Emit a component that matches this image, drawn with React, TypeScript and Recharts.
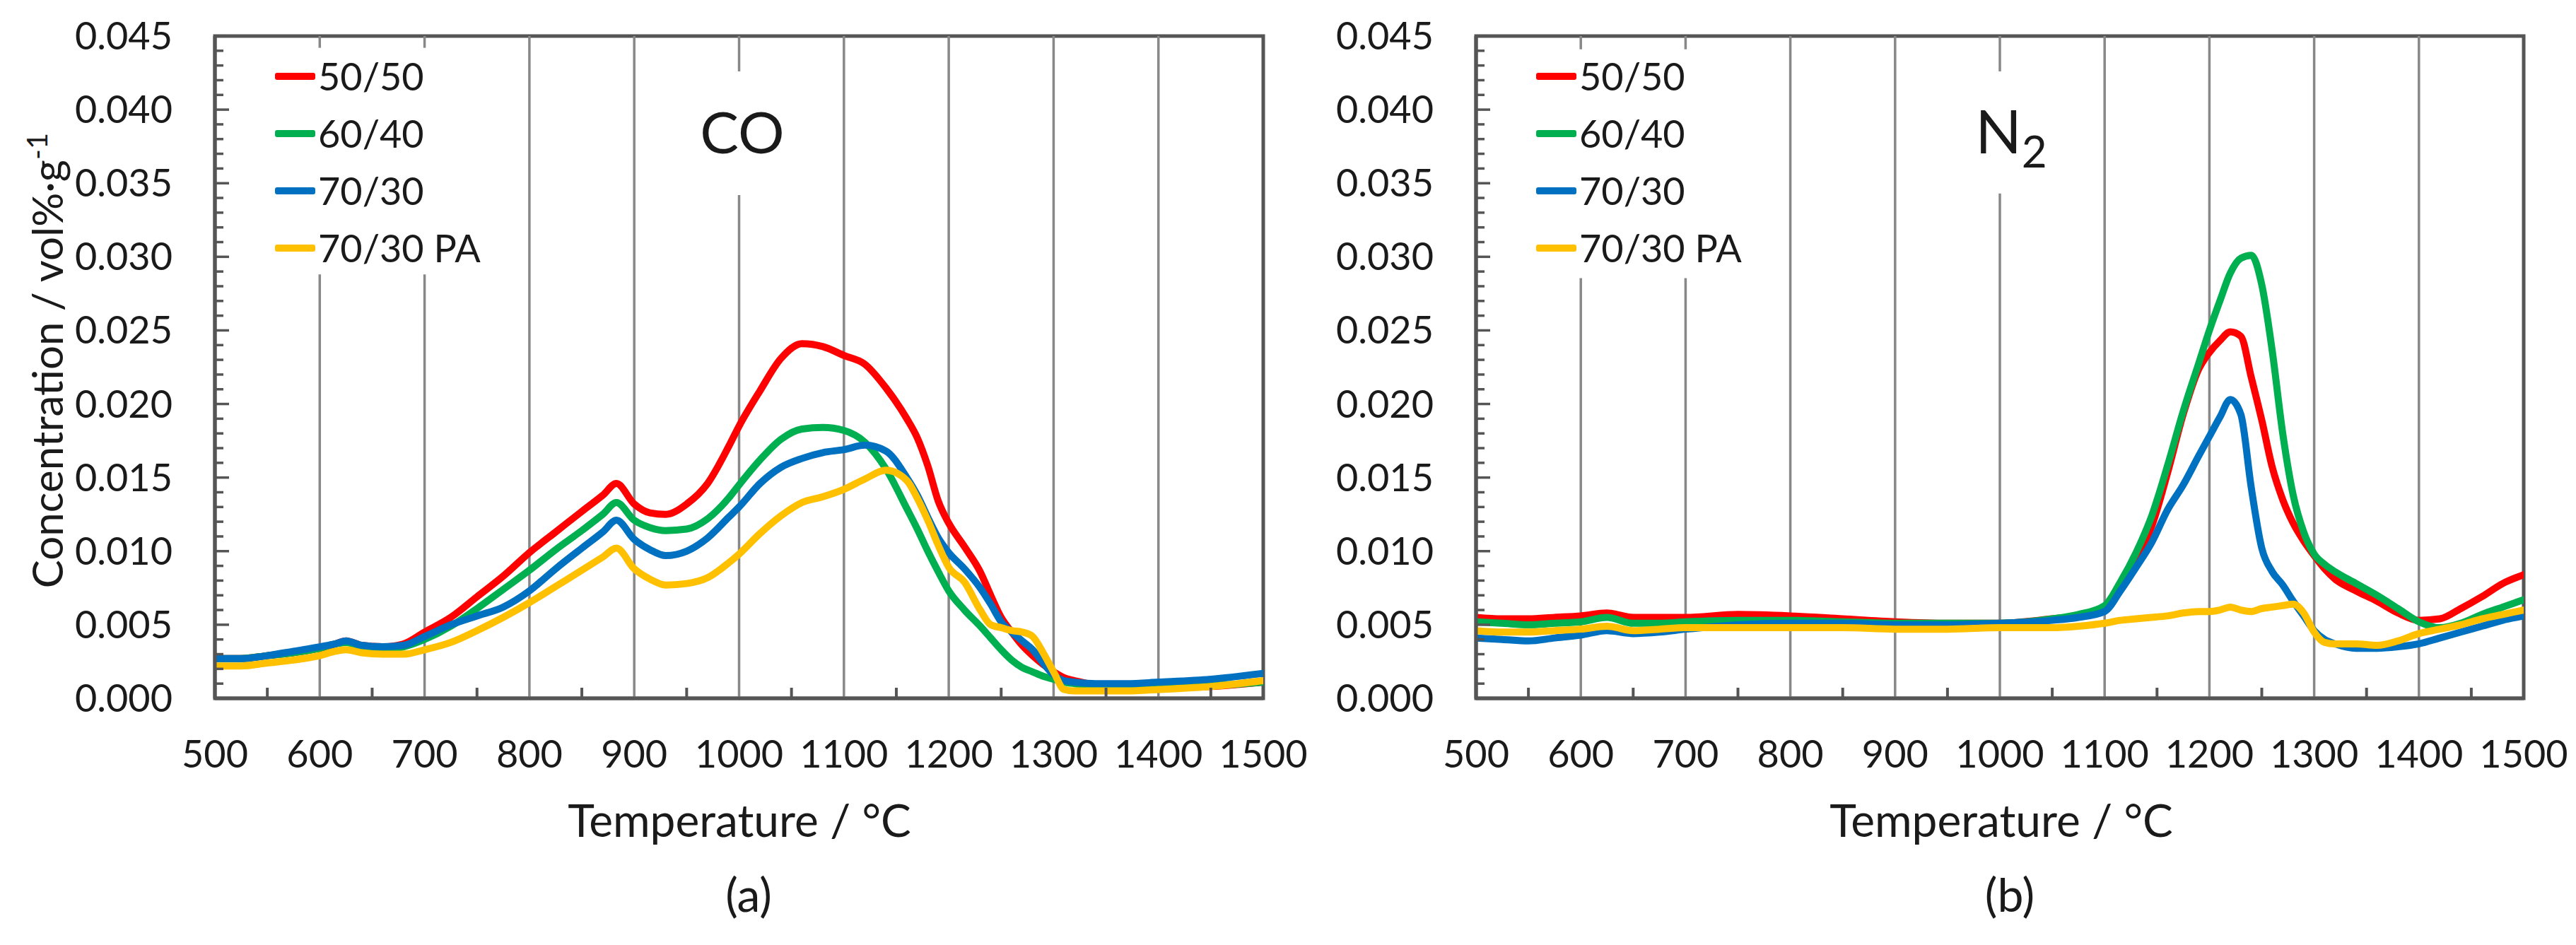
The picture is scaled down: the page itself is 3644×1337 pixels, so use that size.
import React from 'react';
import { LineChart, Line, XAxis, YAxis, ReferenceLine, ReferenceArea, Legend } from 'recharts';

const FONT = 'Lato, "Open Sans", "DejaVu Sans", sans-serif';
const FRAME = '#555555';
const GRID = '#888888';
const TEXT = '#1a1a1a';

// ---------- series meta ----------
const seriesNames = ['50/50', '60/40', '70/30', '70/30 PA'];
const seriesColors = ['#FF0000', '#00B050', '#0070C0', '#FFC000'];

// ---------- (a) CO ----------
const coTemps = [500, 525, 550, 575, 600, 615, 625, 640, 660, 680, 700, 725, 750, 775, 800, 825, 850, 870, 883, 900, 915, 930, 950, 970, 990, 1000, 1020, 1040, 1060, 1080, 1100, 1120, 1140, 1160, 1170, 1180, 1190, 1200, 1215, 1230, 1240, 1250, 1260, 1270, 1280, 1290, 1300, 1310, 1320, 1340, 1370, 1400, 1450, 1500];
const co5050 = [0.0027, 0.0027, 0.0029, 0.0031, 0.0034, 0.0037, 0.0039, 0.0036, 0.0035, 0.0037, 0.0045, 0.0055, 0.0069, 0.0083, 0.0099, 0.0113, 0.0127, 0.0138, 0.0146, 0.0132, 0.0126, 0.0125, 0.0132, 0.0146, 0.0171, 0.0185, 0.0209, 0.0231, 0.0241, 0.0239, 0.0233, 0.0227, 0.0211, 0.0190, 0.0177, 0.0158, 0.0134, 0.0119, 0.0103, 0.0086, 0.0070, 0.0055, 0.0045, 0.0036, 0.0029, 0.0023, 0.0018, 0.0014, 0.0012, 0.0009, 0.0007, 0.0007, 0.0008, 0.0011];
const co6040 = [0.0027, 0.0027, 0.0029, 0.0031, 0.0034, 0.0037, 0.0038, 0.0035, 0.0033, 0.0035, 0.0040, 0.0049, 0.0061, 0.0074, 0.0087, 0.0101, 0.0114, 0.0125, 0.0133, 0.0121, 0.0116, 0.0114, 0.0115, 0.0122, 0.0136, 0.0145, 0.0162, 0.0176, 0.0183, 0.0184, 0.0182, 0.0174, 0.0156, 0.0129, 0.0115, 0.0100, 0.0086, 0.0073, 0.0060, 0.0049, 0.0041, 0.0033, 0.0026, 0.0021, 0.0018, 0.0015, 0.0013, 0.0011, 0.0010, 0.0009, 0.0009, 0.0009, 0.0009, 0.0011];
const co7030 = [0.0027, 0.0027, 0.0029, 0.0032, 0.0035, 0.0037, 0.0039, 0.0036, 0.0035, 0.0036, 0.0042, 0.0050, 0.0056, 0.0062, 0.0073, 0.0088, 0.0102, 0.0113, 0.0121, 0.0108, 0.0101, 0.0097, 0.0100, 0.0109, 0.0123, 0.0130, 0.0146, 0.0157, 0.0163, 0.0167, 0.0169, 0.0172, 0.0168, 0.0150, 0.0138, 0.0123, 0.0109, 0.0099, 0.0088, 0.0075, 0.0064, 0.0052, 0.0045, 0.0039, 0.0033, 0.0024, 0.0016, 0.0012, 0.0011, 0.0010, 0.0010, 0.0011, 0.0013, 0.0017];
const co7030PA = [0.0022, 0.0022, 0.0024, 0.0026, 0.0029, 0.0032, 0.0033, 0.0031, 0.0030, 0.0030, 0.0033, 0.0038, 0.0046, 0.0055, 0.0065, 0.0076, 0.0087, 0.0096, 0.0102, 0.0088, 0.0081, 0.0077, 0.0078, 0.0082, 0.0092, 0.0098, 0.0112, 0.0124, 0.0133, 0.0137, 0.0142, 0.0149, 0.0155, 0.0148, 0.0136, 0.0121, 0.0104, 0.0089, 0.0079, 0.0060, 0.0050, 0.0048, 0.0046, 0.0045, 0.0042, 0.0031, 0.0018, 0.0006, 0.0005, 0.0005, 0.0005, 0.0006, 0.0008, 0.0012];

// ---------- (b) N2 ----------
const n2Temps = [500, 525, 550, 575, 600, 625, 650, 675, 700, 750, 800, 850, 900, 950, 1000, 1050, 1075, 1100, 1115, 1130, 1145, 1160, 1175, 1190, 1200, 1210, 1220, 1230, 1240, 1250, 1260, 1270, 1280, 1290, 1300, 1310, 1320, 1340, 1360, 1380, 1400, 1420, 1440, 1460, 1480, 1500];
const n25050 = [0.0055, 0.0054, 0.0054, 0.0055, 0.0056, 0.0058, 0.0055, 0.0055, 0.0055, 0.0057, 0.0056, 0.0054, 0.0052, 0.0051, 0.0051, 0.0054, 0.0056, 0.0061, 0.0075, 0.0094, 0.0117, 0.0153, 0.0193, 0.0224, 0.0235, 0.0243, 0.0249, 0.0246, 0.0218, 0.0189, 0.0157, 0.0135, 0.0119, 0.0107, 0.0097, 0.0088, 0.0081, 0.0073, 0.0066, 0.0058, 0.0053, 0.0054, 0.0061, 0.0069, 0.0078, 0.0084];
const n26040 = [0.0052, 0.0051, 0.0050, 0.0051, 0.0052, 0.0055, 0.0051, 0.0051, 0.0052, 0.0053, 0.0053, 0.0052, 0.0051, 0.0051, 0.0051, 0.0054, 0.0057, 0.0063, 0.0079, 0.0099, 0.0124, 0.0158, 0.0195, 0.0228, 0.0250, 0.0270, 0.0289, 0.0299, 0.0301, 0.0281, 0.0236, 0.0180, 0.0138, 0.0113, 0.0098, 0.0091, 0.0086, 0.0078, 0.0070, 0.0061, 0.0052, 0.0048, 0.0051, 0.0057, 0.0062, 0.0067];
const n27030 = [0.0041, 0.0040, 0.0039, 0.0041, 0.0043, 0.0046, 0.0044, 0.0045, 0.0047, 0.0050, 0.0051, 0.0051, 0.0050, 0.0050, 0.0051, 0.0053, 0.0055, 0.0059, 0.0073, 0.0089, 0.0106, 0.0128, 0.0145, 0.0165, 0.0178, 0.0191, 0.0203, 0.0193, 0.0143, 0.0102, 0.0086, 0.0077, 0.0066, 0.0056, 0.0046, 0.0040, 0.0037, 0.0034, 0.0034, 0.0035, 0.0037, 0.0041, 0.0045, 0.0049, 0.0053, 0.0056];
const n27030PA = [0.0046, 0.0045, 0.0045, 0.0046, 0.0047, 0.0049, 0.0046, 0.0047, 0.0048, 0.0048, 0.0048, 0.0048, 0.0047, 0.0047, 0.0048, 0.0048, 0.0049, 0.0051, 0.0053, 0.0054, 0.0055, 0.0056, 0.0058, 0.0059, 0.0059, 0.0060, 0.0062, 0.0060, 0.0059, 0.0061, 0.0062, 0.0063, 0.0064, 0.0058, 0.0045, 0.0038, 0.0037, 0.0037, 0.0036, 0.0039, 0.0044, 0.0047, 0.0050, 0.0054, 0.0057, 0.0060];

// ---------- axes ----------
const xTicks = [500, 550, 600, 650, 700, 750, 800, 850, 900, 950, 1000, 1050, 1100, 1150, 1200, 1250, 1300, 1350, 1400, 1450, 1500];
const yTicks = [0, 0.001, 0.002, 0.003, 0.004, 0.005, 0.006, 0.007, 0.008, 0.009, 0.010, 0.011, 0.012, 0.013, 0.014, 0.015, 0.016, 0.017, 0.018, 0.019, 0.020, 0.021, 0.022, 0.023, 0.024, 0.025, 0.026, 0.027, 0.028, 0.029, 0.030, 0.031, 0.032, 0.033, 0.034, 0.035, 0.036, 0.037, 0.038, 0.039, 0.040, 0.041, 0.042, 0.043, 0.044, 0.045];
const gridTemps = [600, 700, 800, 900, 1000, 1100, 1200, 1300, 1400];
// gaps in gridlines where the legend / panel title sit (temperature -> [from, to] in concentration)
const coGridGaps: Record<number, number[]> = { 600: [0.0288, 0.0442], 700: [0.0288, 0.0442], 1000: [0.0342, 0.0426] };
const n2GridGaps: Record<number, number[]> = { 600: [0.02855, 0.0441], 700: [0.02855, 0.0441], 1000: [0.0343, 0.0426] };

const Y_MAX = 0.045;

function buildRows(temps: number[], series: number[][]) {
  return temps.map((t, i) => {
    const row: any = { t };
    series.forEach((s, k) => { row['s' + k] = s[i]; });
    return row;
  });
}

const coRows = buildRows(coTemps, [co5050, co6040, co7030, co7030PA]);
const n2Rows = buildRows(n2Temps, [n25050, n26040, n27030, n27030PA]);

function gridSegments(gaps: Record<number, number[]>) {
  const segs: { x: number; y1: number; y2: number }[] = [];
  gridTemps.forEach((t) => {
    const g = gaps[t];
    if (g) {
      segs.push({ x: t, y1: 0, y2: g[0] });
      segs.push({ x: t, y1: g[1], y2: Y_MAX });
    } else {
      segs.push({ x: t, y1: 0, y2: Y_MAX });
    }
  });
  return segs;
}

const renderXTick = (props: any) => {
  const { x, y, payload } = props;
  const v = payload.value;
  if (v % 100 === 0) {
    return (
      <text x={x} y={y + 98} textAnchor="middle" fontSize={54} fontFamily={FONT} fill={TEXT}>
        {v}
      </text>
    );
  }
  return <line x1={x} y1={y} x2={x} y2={y - 15} stroke={FRAME} strokeWidth={4} />;
};

const renderYTick = (props: any) => {
  const { x, y, payload } = props;
  const v = payload.value;
  const major = Math.round(v * 1000) % 5 === 0;
  return (
    <g>
      <line x1={x} y1={y} x2={x + (major ? 20 : 12)} y2={y} stroke={FRAME} strokeWidth={3.5} />
      {major && (
        <text x={x - 60} y={y + 19} textAnchor="end" fontSize={54} fontFamily={FONT} fill={TEXT}>
          {v.toFixed(3)}
        </text>
      )}
    </g>
  );
};

const renderLegend = (props: any) => {
  const { payload } = props;
  return (
    <div>
      {(payload || []).map((e: any) => (
        <div key={e.value} style={{ display: 'flex', alignItems: 'center', height: 81 }}>
          <div style={{ width: 57, height: 10, background: e.color, borderRadius: 3 }} />
          <span style={{ marginLeft: 4, fontFamily: FONT, fontSize: 54, color: TEXT, lineHeight: '81px', whiteSpace: 'nowrap' }}>
            {e.value}
          </span>
        </div>
      ))}
    </div>
  );
};

type PanelProps = {
  rows: any[];
  gaps: Record<number, number[]>;
  left: number;
  width: number;
  yAxisWidth: number;
  rightMargin: number;
};

function Panel({ rows, gaps, left, width, yAxisWidth, rightMargin }: PanelProps) {
  const segs = gridSegments(gaps);
  return (
    <div style={{ position: 'absolute', left, top: 0 }}>
      <LineChart
        width={width}
        height={1337}
        data={rows}
        margin={{ top: 51, right: rightMargin, bottom: 0, left: 0 }}
      >
        <XAxis
          dataKey="t"
          type="number"
          domain={[500, 1500]}
          ticks={xTicks}
          interval={0}
          height={349}
          tickSize={0}
          tickMargin={0}
          tickLine={false}
          axisLine={{ stroke: FRAME, strokeWidth: 5 }}
          tick={renderXTick}
          allowDataOverflow
        />
        <YAxis
          type="number"
          domain={[0, Y_MAX]}
          ticks={yTicks}
          interval={0}
          width={yAxisWidth}
          tickSize={0}
          tickMargin={0}
          tickLine={false}
          axisLine={{ stroke: FRAME, strokeWidth: 5 }}
          tick={renderYTick}
          allowDataOverflow
        />
        {segs.map((s, i) => (
          <ReferenceLine
            key={'g' + i}
            segment={[{ x: s.x, y: s.y1 }, { x: s.x, y: s.y2 }]}
            stroke={GRID}
            strokeWidth={3.5}
          />
        ))}
        <ReferenceArea x1={500} x2={1500} y1={0} y2={Y_MAX} fill="none" stroke={FRAME} strokeWidth={5} />
        {seriesNames.map((name, k) => (
          <Line
            key={name}
            type="monotone"
            dataKey={'s' + k}
            name={name}
            stroke={seriesColors[k]}
            strokeWidth={10}
            strokeLinejoin="round"
            strokeLinecap="round"
            dot={false}
            activeDot={false}
            isAnimationActive={false}
          />
        ))}
        <Legend
          layout="vertical"
          align="center"
          verticalAlign="middle"
          content={renderLegend}
          wrapperStyle={{ left: yAxisWidth + 85, top: 67, width: 'auto', height: 'auto' }}
        />
      </LineChart>
    </div>
  );
}

export default function App() {
  return (
    <div style={{ position: 'absolute', left: 0, top: 0, width: 3644, height: 1337, background: '#ffffff', overflow: 'hidden' }}>
      <Panel rows={coRows} gaps={coGridGaps} left={0} width={1860} yAxisWidth={304} rightMargin={73} />
      <Panel rows={n2Rows} gaps={n2GridGaps} left={1860} width={1784} yAxisWidth={228} rightMargin={74} />
      <svg width={3644} height={1337} style={{ position: 'absolute', left: 0, top: 0, pointerEvents: 'none' }}>
        <g fontFamily={FONT} fill={TEXT}>
          <text x={89} y={510} fontSize={60} textAnchor="middle" transform="rotate(-90, 89, 510)">
            Concentration / vol%·g<tspan dy={-22} fontSize={40}>-1</tspan>
          </text>
          <text x={1050} y={217} fontSize={82} textAnchor="middle">CO</text>
          <text x={2845} y={217} fontSize={86} textAnchor="middle">
            N<tspan dy={20} fontSize={62}>2</tspan>
          </text>
          <text x={1046} y={1184} fontSize={64} textAnchor="middle">Temperature / °C</text>
          <text x={2831} y={1184} fontSize={64} textAnchor="middle">Temperature / °C</text>
          <text x={1059} y={1290} fontSize={66} textAnchor="middle">(a)</text>
          <text x={2843} y={1290} fontSize={66} textAnchor="middle">(b)</text>
        </g>
      </svg>
    </div>
  );
}
